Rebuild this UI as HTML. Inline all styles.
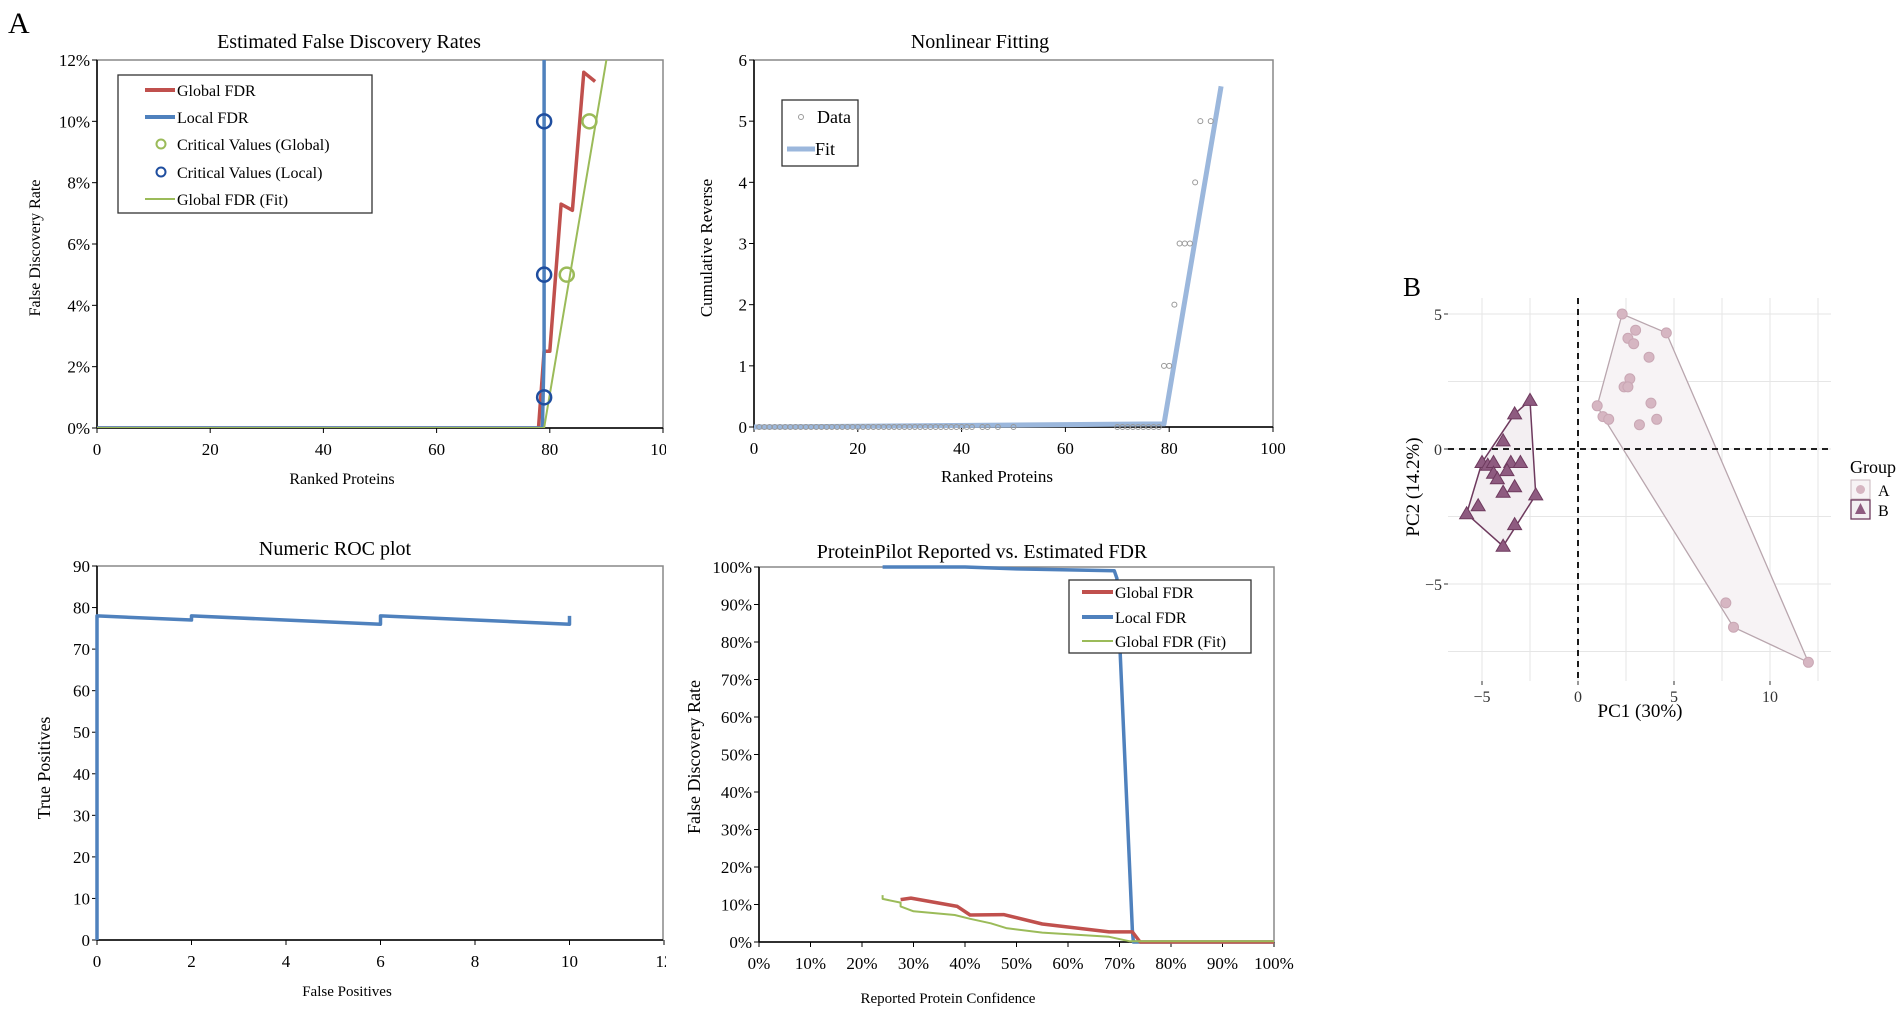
<!DOCTYPE html>
<html><head><meta charset="utf-8"><style>
html,body{margin:0;padding:0;background:#fff}
svg{display:block;font-family:"Liberation Serif",serif}
</style></head><body>
<svg id="s" width="1901" height="1015" viewBox="0 0 1901 1015" xmlns="http://www.w3.org/2000/svg">
<defs><clipPath id="clipL"><rect x="0" y="0" width="666" height="1015"/></clipPath></defs>
<text x="8" y="33" font-size="30">A</text>
<text x="1403" y="296" font-size="27">B</text>
<g id="c1" clip-path="url(#clipL)"></g>
<g id="c2"></g>
<g id="c3" clip-path="url(#clipL)"></g>
<g id="c4"></g>
<g id="c5"></g>
</svg>
<script>
// ---- Chart 1: Estimated FDR ----
const c1Ticks = [0,20,40,60,80,100];
const c1YTicks = [0,2,4,6,8,10,12];
const c1GlobalX = [0,78,79,80,82,84,86,88];
const c1GlobalY = [0,0,2.5,2.5,7.3,7.1,11.6,11.3];
const c1LocalX = [0,78.7,79,79];
const c1LocalY = [0,0,2.5,13];
const c1FitX = [0,79,90];
const c1FitY = [0,0,12];
const c1CritGX = [83,87];
const c1CritGY = [5,10];
const c1CritLX = [79,79,79];
const c1CritLY = [1,5,10];
// ---- Chart 2: Nonlinear fitting ----
const c2Ticks = [0,20,40,60,80,100];
const c2YTicks = [0,1,2,3,4,5,6];
const c2DataX = [1,2,3,4,5,6,7,8,9,10,11,12,13,14,15,16,17,18,19,20,21,22,23,24,25,26,27,28,29,30,31,32,33,34,35,36,37,38,39,40,41,42,44,45,47,50,70,71,72,73,74,75,76,77,78,79,80,81,82,83,84,85,86,88];
const c2DataY = [0,0,0,0,0,0,0,0,0,0,0,0,0,0,0,0,0,0,0,0,0,0,0,0,0,0,0,0,0,0,0,0,0,0,0,0,0,0,0,0,0,0,0,0,0,0,0,0,0,0,0,0,0,0,0,1,1,2,3,3,3,4,5,5];
const c2FitX = [0,79,90];
const c2FitY = [0,0.05,5.57];
// ---- Chart 3: ROC ----
const c3Ticks = [0,2,4,6,8,10,12];
const c3YTicks = [0,10,20,30,40,50,60,70,80,90];
const c3X = [0,0,2,2,6,6,10,10];
const c3Y = [0,78,77,78,76,78,76,78];
// ---- Chart 4: Reported vs estimated ----
const c4Ticks = [0,10,20,30,40,50,60,70,80,90,100];
const c4YTicks = [0,10,20,30,40,50,60,70,80,90,100];
const c4LocalX = [24,40,50,69,69.5,72.5,72.7,100];
const c4LocalY = [100,100,99.5,99,97,3,0,0];
const c4GlobalX = [27.5,29.5,38.5,41,47.5,55,68,72.5,74,100];
const c4GlobalY = [11.3,11.7,9.5,7.2,7.3,4.8,2.7,2.7,0,0];
const c4FitX = [24,24,27.5,27.5,30,38,41,45,48,55,68,72,100];
const c4FitY = [12.5,11.5,10.5,9.5,8.2,7.2,6.2,5,3.7,2.5,1.4,0.2,0.2];
// ---- Chart 5: PCA ----
const pcaXTicks = [-5,0,5,10];
const pcaYTicks = [5,0,-5];
const pcaAX = [2.3,4.6,3,2.6,2.9,3.7,2.7,2.4,2.6,3.8,1,1.3,1.6,3.2,4.1,7.7,8.1,12];
const pcaAY = [5,4.3,4.4,4.1,3.9,3.4,2.6,2.3,2.3,1.7,1.6,1.2,1.1,0.9,1.1,-5.7,-6.6,-7.9];
const pcaBX = [-2.5,-3.3,-3.9,-5,-4.7,-4.4,-3.5,-3,-3.7,-4.4,-4.2,-3.9,-3.3,-5.2,-5.8,-3.3,-3.9,-2.2];
const pcaBY = [1.8,1.3,0.3,-0.5,-0.6,-0.5,-0.5,-0.5,-0.8,-0.9,-1.1,-1.6,-1.4,-2.1,-2.4,-2.8,-3.6,-1.7];

const NS="http://www.w3.org/2000/svg";
function mk(parent,tag,attrs,text){const e=document.createElementNS(NS,tag);for(const k in attrs)e.setAttribute(k,attrs[k]);if(text!==undefined)e.textContent=text;parent.appendChild(e);return e;}
function lin(d0,d1,r0,r1){return v=>r0+(v-d0)/(d1-d0)*(r1-r0);}
function pathOf(xs,ys,sx,sy){return xs.map((x,i)=>(i?'L':'M')+sx(x).toFixed(1)+' '+sy(ys[i]).toFixed(1)).join(' ');}

function frame(g,o){
  const sx=lin(0,o.xmax,o.L,o.xR), sy=lin(0,o.ymax,o.B,o.T);
  mk(g,'rect',{x:o.L,y:o.T,width:o.R-o.L,height:o.B-o.T,fill:'none',stroke:'#888','stroke-width':1.5});
  const ya=mk(g,'line',{x1:o.L,y1:o.T,x2:o.L,y2:o.B,stroke:'#000','stroke-width':1.5});
  
  const xa=mk(g,'line',{x1:o.L,y1:o.B,x2:o.R,y2:o.B,stroke:'#000','stroke-width':1.5});
  
  o.xt.forEach(v=>{const x=sx(v);mk(g,'line',{x1:x,y1:o.B,x2:x,y2:o.B+5,stroke:'#000'});
    const t=mk(g,'text',{x:x,y:o.B+27,'font-size':17,'text-anchor':'middle'},o.xf(v));
    });
  o.yt.forEach(v=>{const y=sy(v);mk(g,'line',{x1:o.L-5,y1:y,x2:o.L,y2:y,stroke:'#000'});
    const t=mk(g,'text',{x:o.L-7,y:y+6,'font-size':17,'text-anchor':'end'},o.yf(v));
    });
  const ti=mk(g,'text',{x:o.tx,y:o.ty,'font-size':20,'text-anchor':'middle'},o.title);
  
  const xl=mk(g,'text',{x:o.xlx,y:o.xly,'font-size':o.xls||16,'text-anchor':'middle'},o.xlabel);
  
  const yl=mk(g,'text',{x:0,y:0,'font-size':o.yls||16,'text-anchor':'middle',transform:`translate(${o.ylx},${o.yly}) rotate(-90)`},o.ylabel);
  
  return {sx,sy};
}
function line(g,xs,ys,s,color,w,name){const p=mk(g,'path',{d:pathOf(xs,ys,s.sx,s.sy),fill:'none',stroke:color,'stroke-width':w,'stroke-linejoin':'round'});
  return p;}
function circles(g,xs,ys,s,color,r,w,name){xs.forEach((x,i)=>{const c=mk(g,'circle',{cx:s.sx(x),cy:s.sy(ys[i]),r:r,fill:'none',stroke:color,'stroke-width':w});
  });}
function legend(g,x,y,w,h,items){
  const lg=mk(g,'g',{});
  mk(lg,'rect',{x:x,y:y,width:w,height:h,fill:'#fff',stroke:'#333','stroke-width':1.3});
  items.forEach(it=>{
    const e=mk(lg,'g',{});
    if(it.type==='line')mk(e,'line',{x1:it.x1,y1:it.y,x2:it.x2,y2:it.y,stroke:it.c,'stroke-width':it.w});
    else mk(e,'circle',{cx:it.cx,cy:it.y,r:it.r,fill:'none',stroke:it.c,'stroke-width':it.w});
    mk(e,'text',{x:it.tx,y:it.y+6,'font-size':it.fs||18},it.label);});
}
const RED='#c0504d',BLUE='#4f81bd',GREEN='#9bbb59',DBLUE='#1f4e9f';

// Chart 1
(function(){const g=document.getElementById('c1');
 const s=frame(g,{L:97,R:663,T:60,B:428,xmax:100,xR:663,ymax:12,xt:c1Ticks,yt:c1YTicks,xf:v=>String(v),yf:v=>v+'%',
  title:'Estimated False Discovery Rates',tx:349,ty:48,xlabel:'Ranked Proteins',xlx:342,xly:484,ylabel:'False Discovery Rate',ylx:40,yly:248});
 const cl=mk(g,'clipPath',{id:'p1'});mk(cl,'rect',{x:97,y:60,width:566,height:368});
 const pg=mk(g,'g',{'clip-path':'url(#p1)'});
 line(pg,c1GlobalX,c1GlobalY,s,RED,3.5,'global-fdr-line');
 line(pg,c1LocalX,c1LocalY,s,BLUE,3.5,'local-fdr-line');
 line(pg,c1FitX,c1FitY,s,GREEN,2,'global-fdr-fit-line');
 circles(g,c1CritLX,c1CritLY,s,DBLUE,7,2.5,'critical-value-local');
 circles(g,c1CritGX,c1CritGY,s,GREEN,7,2.5,'critical-value-global');
 legend(g,118,75,254,138,[
  {type:'line',x1:145,x2:175,y:90,c:RED,w:4,tx:177,label:'Global FDR',fs:16},
  {type:'line',x1:145,x2:175,y:117,c:BLUE,w:4,tx:177,label:'Local FDR',fs:16},
  {type:'c',cx:161,y:144,r:4.5,c:GREEN,w:2,tx:177,label:'Critical Values (Global)',fs:16},
  {type:'c',cx:161,y:172,r:4.5,c:DBLUE,w:2,tx:177,label:'Critical Values (Local)',fs:16},
  {type:'line',x1:145,x2:175,y:199,c:GREEN,w:2,tx:177,label:'Global FDR (Fit)',fs:16}]);
})();
// Chart 2
(function(){const g=document.getElementById('c2');
 const s=frame(g,{L:754,R:1273,T:60,B:427,xmax:100,xR:1273,ymax:6,xt:c2Ticks,yt:c2YTicks,xf:v=>String(v),yf:v=>String(v),
  title:'Nonlinear Fitting',tx:980,ty:48,xlabel:'Ranked Proteins',xlx:997,xly:482,ylabel:'Cumulative Reverse',ylx:712,yly:248,yls:17,xls:17});
 line(g,c2FitX,c2FitY,s,'#9bb7dc',5,'fit-line');
 circles(g,c2DataX,c2DataY,s,'#999',2.5,1,'data-point');
 legend(g,782,100,76,66,[
  {type:'c',cx:801,y:117,r:2.5,c:'#999',w:1,tx:817,label:'Data'},
  {type:'line',x1:787,x2:815,y:149,c:'#9bb7dc',w:5,tx:815,label:'Fit'}]);
})();
// Chart 3
(function(){const g=document.getElementById('c3');
 const s=frame(g,{L:97,R:663,T:566,B:940,xmax:12,xR:664,ymax:90,xt:c3Ticks,yt:c3YTicks,xf:v=>String(v),yf:v=>String(v),
  title:'Numeric ROC plot',tx:335,ty:555,xlabel:'False Positives',xlx:347,xly:996,ylabel:'True Positives',ylx:50,yly:768,yls:18,xls:15});
 line(g,c3X,c3Y,s,BLUE,3.5,'roc-line');
})();
// Chart 4
(function(){const g=document.getElementById('c4');
 const s=frame(g,{L:759,R:1274,T:567,B:942,xmax:100,xR:1274,ymax:100,xt:c4Ticks,yt:c4YTicks,xf:v=>v+'%',yf:v=>v+'%',
  title:'ProteinPilot Reported vs. Estimated FDR',tx:982,ty:558,xlabel:'Reported Protein Confidence',xlx:948,xly:1003,ylabel:'False Discovery Rate',ylx:700,yly:757,yls:18,xls:15});
 line(g,c4LocalX,c4LocalY,s,BLUE,3.5,'local-fdr-line');
 line(g,c4GlobalX,c4GlobalY,s,RED,3.5,'global-fdr-line');
 line(g,c4FitX,c4FitY,s,GREEN,2,'global-fdr-fit-line');
 legend(g,1069,580,182,73,[
  {type:'line',x1:1082,x2:1113,y:592,c:RED,w:4,tx:1115,label:'Global FDR',fs:16},
  {type:'line',x1:1082,x2:1113,y:617,c:BLUE,w:4,tx:1115,label:'Local FDR',fs:16},
  {type:'line',x1:1082,x2:1113,y:641,c:GREEN,w:2,tx:1115,label:'Global FDR (Fit)',fs:16}]);
})();
// Chart 5 PCA
(function(){const g=document.getElementById('c5');
 const sx=v=>1578+v*19.2, sy=v=>449-v*27;
 const PL=1448,PR=1831,PT=298,PB=681;
 [-5,-2.5,0,2.5,5,7.5,10,12.5].forEach(v=>mk(g,'line',{x1:sx(v),y1:PT,x2:sx(v),y2:PB,stroke:'#e6e6e6','stroke-width':1}));
 [5,2.5,0,-2.5,-5,-7.5].forEach(v=>mk(g,'line',{x1:PL,y1:sy(v),x2:PR,y2:sy(v),stroke:'#e6e6e6','stroke-width':1}));
 function hull(xs,ys){const p=xs.map((x,i)=>[x,ys[i]]).sort((a,b)=>a[0]-b[0]||a[1]-b[1]);
  const cr=(o,a,b)=>(a[0]-o[0])*(b[1]-o[1])-(a[1]-o[1])*(b[0]-o[0]);const lo=[],up=[];
  for(const q of p){while(lo.length>1&&cr(lo[lo.length-2],lo[lo.length-1],q)<=0)lo.pop();lo.push(q);}
  for(const q of p.slice().reverse()){while(up.length>1&&cr(up[up.length-2],up[up.length-1],q)<=0)up.pop();up.push(q);}
  return lo.slice(0,-1).concat(up.slice(0,-1));}
 const hA=hull(pcaAX,pcaAY), hB=hull(pcaBX,pcaBY);
 const pA=mk(g,'polygon',{points:hA.map(q=>sx(q[0])+','+sy(q[1])).join(' '),fill:'#f7f3f5',stroke:'#b9a6ae','stroke-width':1.3});
 
 const pB=mk(g,'polygon',{points:hB.map(q=>sx(q[0])+','+sy(q[1])).join(' '),fill:'#f3eff2',stroke:'#6e3a5e','stroke-width':1.5});
 
 mk(g,'line',{x1:PL,y1:sy(0),x2:PR,y2:sy(0),stroke:'#000','stroke-width':1.8,'stroke-dasharray':'6,5'});
 mk(g,'line',{x1:sx(0),y1:PT,x2:sx(0),y2:PB,stroke:'#000','stroke-width':1.8,'stroke-dasharray':'6,5'});
 pcaAX.forEach((x,i)=>{const c=mk(g,'circle',{cx:sx(x),cy:sy(pcaAY[i]),r:5,fill:'#d6b6c2',stroke:'#c9a7b4','stroke-width':1});
  });
 pcaBX.forEach((x,i)=>{const X=sx(x),Y=sy(pcaBY[i]);const t=mk(g,'polygon',{points:`${X},${Y-7} ${X-7},${Y+5} ${X+7},${Y+5}`,fill:'#8e5b80',stroke:'#6e3a5e','stroke-width':1});
  });
 pcaXTicks.forEach(v=>{mk(g,'line',{x1:sx(v),y1:PB,x2:sx(v),y2:PB+4,stroke:'#333'});
  const t=mk(g,'text',{x:sx(v),y:PB+21,'font-size':16,'text-anchor':'middle',fill:'#333'},v<0?'\u2212'+(-v):String(v));
  });
 pcaYTicks.forEach(v=>{mk(g,'line',{x1:PL-4,y1:sy(v),x2:PL,y2:sy(v),stroke:'#333'});
  const t=mk(g,'text',{x:PL-6,y:sy(v)+6,'font-size':16,'text-anchor':'end',fill:'#333'},v<0?'\u2212'+(-v):String(v));
  });
 const xl=mk(g,'text',{x:1640,y:717,'font-size':19,'text-anchor':'middle'},'PC1 (30%)');
 
 const yl=mk(g,'text',{x:0,y:0,'font-size':19,'text-anchor':'middle',transform:'translate(1419,487) rotate(-90)'},'PC2 (14.2%)');
 
 const lg=mk(g,'g',{});
 mk(lg,'text',{x:1850,y:473,'font-size':18},'Group');
 mk(lg,'rect',{x:1851,y:480,width:19,height:19,fill:'#f7f3f5',stroke:'#c9b7be'});
 mk(lg,'circle',{cx:1860.5,cy:489.5,r:4.5,fill:'#d6b6c2'});
 mk(lg,'text',{x:1878,y:496,'font-size':16},'A');
 mk(lg,'rect',{x:1851,y:500,width:19,height:19,fill:'#f3eff2',stroke:'#6e3a5e','stroke-width':1.3});
 mk(lg,'polygon',{points:'1860.5,503 1855,514 1866,514',fill:'#8e5b80'});
 mk(lg,'text',{x:1878,y:516,'font-size':16},'B');
})();
</script>
</body></html>
